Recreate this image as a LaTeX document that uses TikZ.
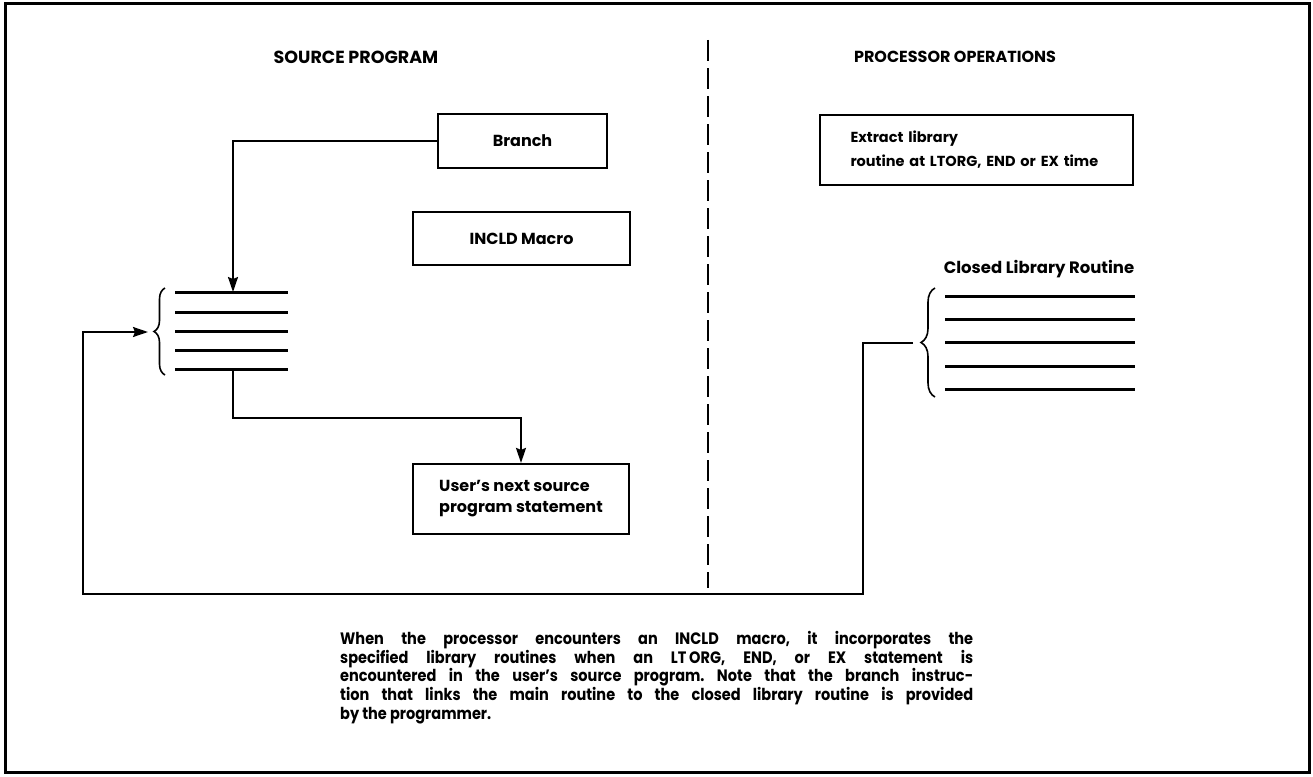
\documentclass[tikz,border=0pt]{standalone}
\usepackage{fontspec}
\setmainfont{Poppins}
\newfontfamily\capfont{Poppins}[FakeStretch=0.88]
\usetikzlibrary{arrows.meta,decorations.pathreplacing}
\frenchspacing
\begin{document}
\begin{tikzpicture}[x=1pt,y=-1pt,
  txt/.style={font=\bfseries\fontsize{16.5}{20}\selectfont,inner sep=0pt},
  box/.style={draw,line width=2.2pt,inner sep=0pt,font=\bfseries\fontsize{16}{21}\selectfont},
  conn/.style={line width=1.8pt},
  arr/.style={conn,-{Stealth[length=15pt,width=10pt,inset=2pt]}},
  rule/.style={line width=3pt},
  brace/.style={decorate,line width=1.6pt,decoration={brace,amplitude=#1}}]
\useasboundingbox (0,0) rectangle (1313,776);
% frame
\draw[line width=3pt] (5,4) rectangle (1309,772);
% divider
\draw[line width=2.5pt,dash pattern=on 21pt off 7pt] (708,40) -- (708,588);
% headings
\node[txt,font=\bfseries\fontsize{17.5}{20}\selectfont] (hsrc) at (356,57) {SOURCE PROGRAM};
\node[txt,font=\bfseries\fontsize{16}{20}\selectfont] (hproc) at (955,57) {PROCESSOR OPERATIONS};
% boxes
\node[box,minimum width=169pt,minimum height=54pt] (branch) at (522.5,141) {Branch};
\node[box,minimum width=217pt,minimum height=53pt] (incld) at (521.5,238.5) {INCLD Macro};
\node[box,minimum width=216pt,minimum height=70pt,align=left] (user) at (521,499) {User’s next source\\program statement};
\node[box,minimum width=313pt,minimum height=70pt,text width=252pt,align=left,font=\bfseries\fontsize{14.5}{24}\selectfont] (extract) at (976.5,150) {Extract library\\routine at LTORG, END or EX time};
\node[txt] (clr) at (1039,269) {Closed Library Routine};
% left statement lines
\foreach \y/\n in {292/1,312/2,331/3,350/4,369/5}{
  \coordinate (La\n) at (175,\y);
  \coordinate (Lb\n) at (288,\y);
  \draw[rule] (La\n) -- (Lb\n);
}
\coordinate (Ltop) at (233,292);
\coordinate (Lbot) at (233,369);
% right statement lines
\foreach \y/\n in {296/1,319/2,342/3,366/4,389/5}{
  \coordinate (Ra\n) at (945,\y);
  \coordinate (Rb\n) at (1135,\y);
  \draw[rule] (Ra\n) -- (Rb\n);
}
% braces
\coordinate (lbB) at (165,375);
\coordinate (lbT) at (165,288);
\draw[brace=11pt] (lbB) -- (lbT);
\coordinate (rbB) at (935,397);
\coordinate (rbT) at (935,288);
\draw[brace=14pt] (rbB) -- (rbT);
% connectors
\draw[arr] (branch.west) -| (Ltop);
\coordinate (k1) at (233,418);
\draw[arr] (Lbot) -- (k1) -| (user.north);
\coordinate (rs) at (913,343);
\coordinate (r1) at (863,343);
\coordinate (cB) at (83,594);
\coordinate (le) at (148,332);
\draw[arr] (rs) -- (r1) |- (cB) |- (le);
% caption
\node[txt,anchor=north west,align=left,font=\capfont\bfseries\fontsize{16.5}{18.7}\selectfont] (cap) at (340,631) {%
\makebox[633pt][s]{When the processor encounters an INCLD macro, it incorporates the}\\
\makebox[633pt][s]{specified library routines when an LT\,ORG, END, or EX statement is}\\
\makebox[633pt][s]{encountered in the user’s source program. Note that the branch instruc-}\\
\makebox[633pt][s]{tion that links the main routine to the closed library routine is provided}\\
by the programmer.};
\end{tikzpicture}
\end{document}
